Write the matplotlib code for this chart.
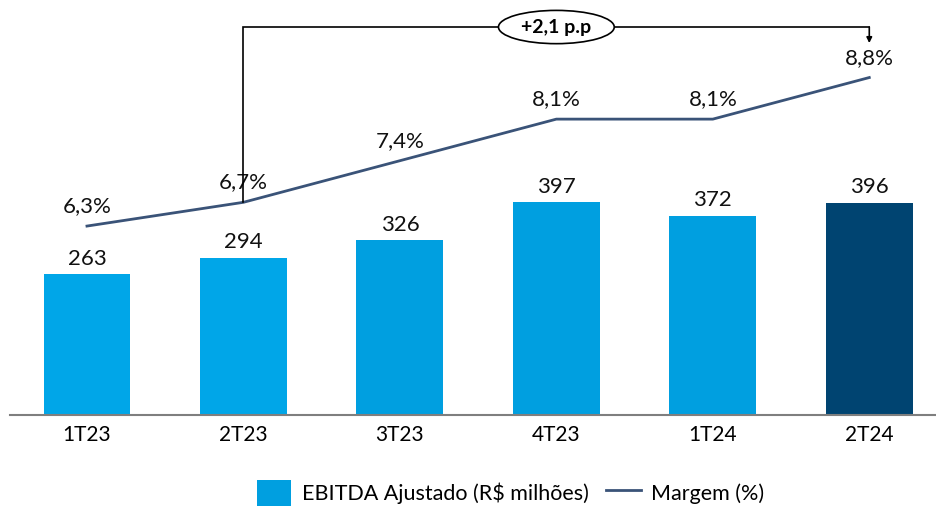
import matplotlib.pyplot as plt
from matplotlib.patches import Ellipse, Patch
from matplotlib.lines import Line2D

plt.rcParams['font.family'] = ['Lato', 'DejaVu Sans']

quarters = ['1T23', '2T23', '3T23', '4T23', '1T24', '2T24']
ebitda = [263, 294, 326, 397, 372, 396]
margin = [6.3, 6.7, 7.4, 8.1, 8.1, 8.8]
bar_colors = ['#00A6E8', '#00A6E8', '#009FE0', '#009FE0', '#009FE0', '#004471']
line_color = '#3A5378'

fig = plt.figure(figsize=(9.37, 5.07), dpi=100)
ax = fig.add_axes([10 / 937, 92 / 507, 925 / 937, 415 / 507])
ax2 = ax.twinx()

x = list(range(len(quarters)))
ax.bar(x, ebitda, width=0.555, color=bar_colors, zorder=2)
for xi, v in zip(x, ebitda):
    ax.annotate(str(v), (xi, v), xytext=(0, 4), textcoords='offset points',
                ha='center', va='bottom', fontsize=16, color='#111111')

ax.set_xlim(-0.492, 5.42)
ax.set_ylim(0, 775)
ax.set_xticks(x)
ax.set_xticklabels(quarters, fontsize=15)
ax.tick_params(axis='x', length=0, pad=7)
ax.set_yticks([])
for s in ['top', 'left', 'right']:
    ax.spines[s].set_visible(False)
ax.spines['bottom'].set_color('#7F7F7F')
ax.spines['bottom'].set_linewidth(1.5)

ax2.plot(x, margin, color=line_color, lw=2, zorder=3)
ax2.set_ylim(3.12, 10.105)
ax2.set_yticks([])
for s in ax2.spines.values():
    s.set_visible(False)
for xi, m in zip(x, margin):
    ax2.annotate(f'{m:.1f}%'.replace('.', ','), (xi, m), xytext=(0, 7),
                 textcoords='offset points', ha='center', va='bottom',
                 fontsize=16, color='#111111')

# bracket showing margin change 2T23 -> 2T24
top = 9.65
ax2.plot([1, 1, 5, 5], [margin[1], top, top, top], color='black', lw=1.2,
         solid_joinstyle='miter', zorder=4)
ax2.annotate('', xy=(5, 9.38), xytext=(5, top),
             arrowprops=dict(arrowstyle='-|>', color='black', lw=1.2,
                             mutation_scale=8, shrinkA=0, shrinkB=0))
ell = Ellipse((3, top), width=0.74, height=0.56, facecolor='white',
              edgecolor='black', lw=1.2, zorder=5)
ax2.add_patch(ell)
ax2.text(3, top, '+2,1 p.p', ha='center', va='center', fontsize=14,
         fontweight='bold', zorder=6)

handles = [Patch(facecolor='#009FE0'), Line2D([0], [0], color=line_color, lw=2)]
fig.legend(handles, ['EBITDA Ajustado (R$ milhões)', 'Margem (%)'],
           loc='center', bbox_to_anchor=(0.545, 0.027), ncol=2, frameon=False,
           fontsize=15.5, handlelength=1.6, handleheight=1.5, columnspacing=0.8,
           handletextpad=0.5)

fig.savefig('out.png', dpi=100)
